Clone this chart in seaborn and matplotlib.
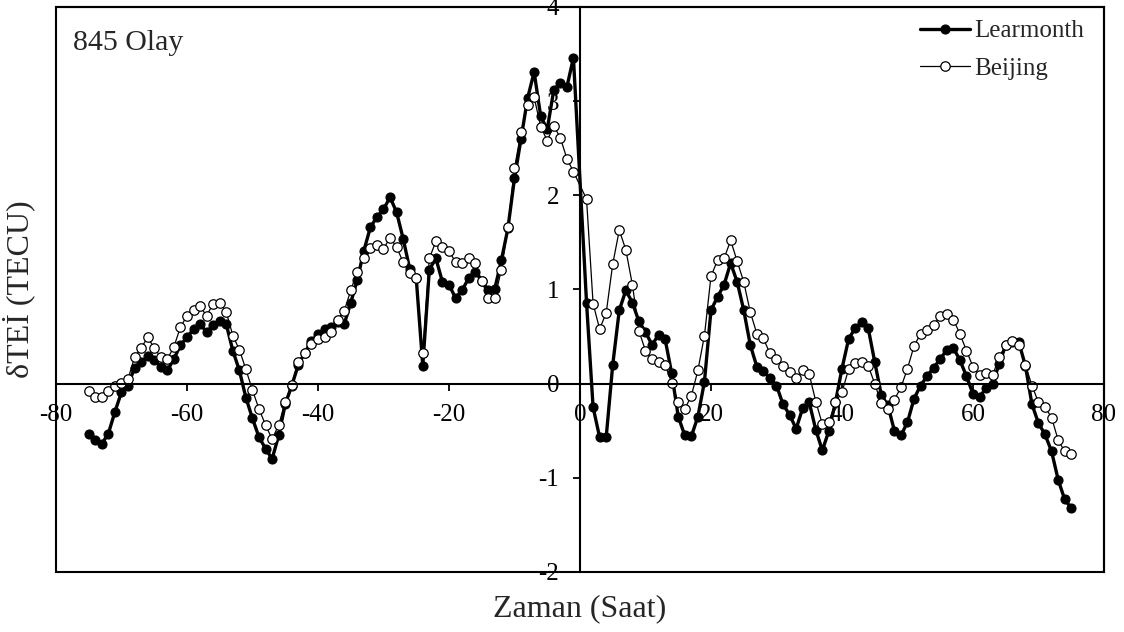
import numpy as np
import pandas as pd
import matplotlib
matplotlib.use("Agg")
import matplotlib.pyplot as plt
from matplotlib.patches import Rectangle
import seaborn as sns

# ---- data (hours relative to event; no sample at t=0) ----
hours_before = list(range(-75, 0))
hours_after = list(range(1, 76))
hours = hours_before + hours_after

learmonth_before = [
    -0.53, -0.60, -0.64, -0.53, -0.30, -0.09, -0.02, 0.17, 0.23, 0.29,
    0.25, 0.18, 0.14, 0.26, 0.41, 0.49, 0.58, 0.63, 0.55, 0.62,
    0.67, 0.63, 0.35, 0.14, -0.15, -0.37, -0.57, -0.69, -0.80, -0.55,
    -0.22, -0.02, 0.20, 0.33, 0.45, 0.53, 0.58, 0.60, 0.65, 0.63,
    0.86, 1.10, 1.41, 1.66, 1.77, 1.85, 1.98, 1.82, 1.54, 1.22,
    1.12, 0.19, 1.21, 1.33, 1.08, 1.05, 0.91, 0.99, 1.12, 1.19,
    1.09, 0.99, 1.01, 1.31, 1.65, 2.18, 2.60, 3.03, 3.31, 2.84,
    2.70, 3.12, 3.19, 3.15, 3.46,
]
learmonth_after = [
    0.86, -0.25, -0.57, -0.57, 0.20, 0.78, 0.99, 0.86, 0.66, 0.55,
    0.41, 0.52, 0.47, 0.11, -0.35, -0.55, -0.56, -0.35, 0.02, 0.78,
    0.92, 1.05, 1.28, 1.08, 0.78, 0.41, 0.18, 0.13, 0.06, -0.02,
    -0.22, -0.33, -0.48, -0.26, -0.20, -0.49, -0.71, -0.50, -0.20, 0.16,
    0.47, 0.59, 0.65, 0.59, 0.23, -0.12, -0.23, -0.50, -0.55, -0.41,
    -0.16, -0.02, 0.08, 0.17, 0.26, 0.36, 0.38, 0.25, 0.08, -0.11,
    -0.14, -0.05, 0.00, 0.21, 0.41, 0.44, 0.44, 0.19, -0.22, -0.42,
    -0.54, -0.72, -1.02, -1.23, -1.32,
]
beijing_before = [
    -0.08, -0.14, -0.14, -0.08, -0.02, 0.01, 0.05, 0.28, 0.38, 0.49,
    0.38, 0.28, 0.26, 0.39, 0.60, 0.72, 0.78, 0.82, 0.72, 0.85,
    0.86, 0.76, 0.51, 0.36, 0.15, -0.07, -0.27, -0.44, -0.59, -0.44,
    -0.19, -0.01, 0.23, 0.33, 0.42, 0.47, 0.49, 0.55, 0.68, 0.77,
    0.99, 1.19, 1.33, 1.44, 1.47, 1.43, 1.55, 1.45, 1.29, 1.17,
    1.12, 0.32, 1.33, 1.51, 1.45, 1.41, 1.29, 1.28, 1.33, 1.28,
    1.09, 0.91, 0.91, 1.21, 1.66, 2.29, 2.67, 2.96, 3.04, 2.73,
    2.58, 2.74, 2.61, 2.39, 2.25,
]
beijing_after = [
    1.96, 0.85, 0.58, 0.75, 1.27, 1.63, 1.42, 1.05, 0.56, 0.35,
    0.26, 0.23, 0.20, 0.01, -0.20, -0.27, -0.13, 0.14, 0.51, 1.14,
    1.31, 1.33, 1.52, 1.30, 1.08, 0.76, 0.53, 0.48, 0.32, 0.26,
    0.19, 0.12, 0.06, 0.14, 0.10, -0.19, -0.43, -0.41, -0.20, -0.09,
    0.15, 0.22, 0.23, 0.19, 0.00, -0.21, -0.27, -0.17, -0.04, 0.16,
    0.40, 0.53, 0.57, 0.62, 0.72, 0.74, 0.68, 0.53, 0.35, 0.18,
    0.09, 0.11, 0.09, 0.28, 0.41, 0.45, 0.41, 0.20, -0.02, -0.20,
    -0.25, -0.36, -0.60, -0.72, -0.75,
]
series_names = ["Learmonth", "Beijing"]
x_ticks = [-80, -60, -40, -20, 0, 20, 40, 60, 80]
y_ticks = [-2, -1, 0, 1, 2, 3, 4]
title_text = "845 Olay"
x_label = "Zaman (Saat)"
y_label = "δTEİ (TECU)"

df = pd.DataFrame({
    "hour": hours,
    "Learmonth": learmonth_before + learmonth_after,
    "Beijing": beijing_before + beijing_after,
})

# ---- style ----
sns.set_theme(style="white")
plt.rcParams["font.family"] = ["Liberation Serif", "DejaVu Serif"]
plt.rcParams["axes.unicode_minus"] = False

fig = plt.figure(figsize=(11.24, 6.32), dpi=100)
ax = fig.add_axes([0.0498, 0.095, 0.9324, 0.894])

sns.lineplot(data=df, x="hour", y="Learmonth", ax=ax, color="black",
             linewidth=2.4, marker="o", markersize=6.5,
             markerfacecolor="black", markeredgecolor="black",
             markeredgewidth=0.8, label=series_names[0], sort=False)
sns.lineplot(data=df, x="hour", y="Beijing", ax=ax, color="black",
             linewidth=0.9, marker="o", markersize=6.8,
             markerfacecolor="white", markeredgecolor="black",
             markeredgewidth=0.9, label=series_names[1], sort=False)

ax.set_xlim(x_ticks[0], x_ticks[-1])
ax.set_ylim(y_ticks[0], y_ticks[-1])
ax.set_xticks(x_ticks)
ax.set_yticks(y_ticks)

# axes crossing at zero
ax.spines["left"].set_position(("data", 0))
ax.spines["bottom"].set_position(("data", 0))
for s in ["left", "bottom", "top", "right"]:
    ax.spines[s].set_visible(True)
    ax.spines[s].set_color("black")
    ax.spines[s].set_linewidth(1.5)
ax.add_patch(Rectangle((0, 0), 1, 1, transform=ax.transAxes, fill=False,
                       edgecolor="black", linewidth=1.5, clip_on=False,
                       zorder=3))

ax.tick_params(axis="x", direction="out", length=5, width=1.3,
               labelsize=18, pad=10, colors="black", bottom=True, top=False)
ax.tick_params(axis="y", direction="out", length=5, width=1.3,
               labelsize=18, pad=10, colors="black", left=True, right=False)

ax.set_xlabel(x_label, fontsize=23)
ax.set_ylabel(y_label, fontsize=23)
ax.xaxis.set_label_coords(0.5, -0.04)
ax.yaxis.set_label_coords(-0.02, 0.5)

ax.text(0.016, 0.937, title_text, transform=ax.transAxes, fontsize=21.5,
        ha="left", va="center")

leg = ax.legend(loc="upper right", bbox_to_anchor=(0.991, 0.995),
                frameon=False, fontsize=18, handlelength=2.0,
                handletextpad=0.2, labelspacing=0.6, borderaxespad=0.0)

ax.grid(False)
fig.savefig("out.png", dpi=100, facecolor="white")
